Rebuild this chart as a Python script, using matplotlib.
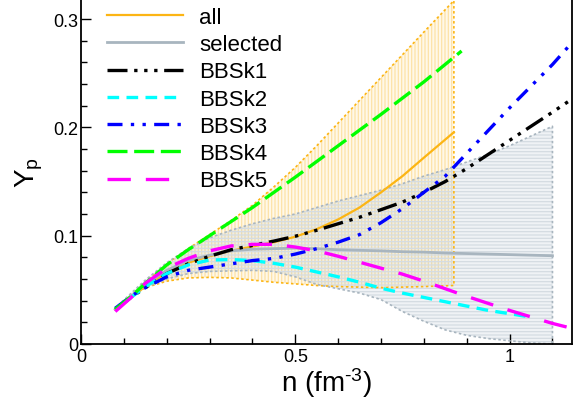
import numpy as np
import matplotlib
matplotlib.use("Agg")
import matplotlib.pyplot as plt
from matplotlib.ticker import MultipleLocator, FuncFormatter

plt.rcParams['font.family'] = ['Liberation Sans', 'DejaVu Sans']
plt.rcParams['mathtext.fontset'] = 'custom'
plt.rcParams['mathtext.rm'] = 'Liberation Sans'
plt.rcParams['mathtext.it'] = 'Liberation Sans:italic'
plt.rcParams['hatch.linewidth'] = 0.9

# ---- bandas: todas las parametrizaciones y las seleccionadas ----
n_all = [0.08, 0.12, 0.15, 0.20, 0.25, 0.30, 0.35, 0.40, 0.45, 0.50, 0.55,
         0.60, 0.65, 0.70, 0.75, 0.80, 0.87]
all_lo = [0.031, 0.045, 0.052, 0.058, 0.061, 0.0615, 0.061, 0.059, 0.057, 0.0555,
          0.054, 0.053, 0.0525, 0.052, 0.0525, 0.053, 0.054]
all_hi = [0.033, 0.046, 0.057, 0.074, 0.088, 0.101, 0.114, 0.128, 0.145, 0.163,
          0.183, 0.204, 0.225, 0.246, 0.267, 0.288, 0.317]
all_mid = [0.032, 0.044, 0.053, 0.066, 0.075, 0.081, 0.086, 0.090, 0.094, 0.099,
           0.106, 0.115, 0.126, 0.140, 0.155, 0.172, 0.1955]

n_sel = [0.08, 0.12, 0.15, 0.20, 0.25, 0.30, 0.35, 0.40, 0.45, 0.50, 0.55, 0.60,
         0.65, 0.70, 0.75, 0.80, 0.85, 0.90, 0.95, 1.00, 1.05, 1.10]
sel_lo = [0.031, 0.045, 0.052, 0.060, 0.065, 0.067, 0.0675, 0.068, 0.067, 0.062,
          0.055, 0.051, 0.047, 0.041, 0.030, 0.021, 0.013, 0.008, 0.005, 0.003,
          0.001, 0.0]
sel_hi = [0.033, 0.048, 0.059, 0.075, 0.088, 0.098, 0.105, 0.111, 0.116, 0.120,
          0.126, 0.132, 0.137, 0.142, 0.148, 0.155, 0.161, 0.168, 0.175, 0.183,
          0.192, 0.201]
sel_mid = [0.032, 0.045, 0.055, 0.068, 0.077, 0.082, 0.086, 0.0875, 0.088, 0.0885,
           0.088, 0.087, 0.0865, 0.086, 0.0852, 0.0848, 0.084, 0.0835, 0.083,
           0.0825, 0.082, 0.0815]

# ---- curvas BBSk ----
n_bbsk1 = [0.08, 0.12, 0.15, 0.20, 0.25, 0.30, 0.35, 0.40, 0.45, 0.50, 0.55, 0.60,
           0.65, 0.70, 0.75, 0.80, 0.85, 0.90, 0.95, 1.00, 1.05, 1.10, 1.145]
yp_bbsk1 = [0.032, 0.044, 0.052, 0.065, 0.074, 0.081, 0.087, 0.091, 0.095, 0.0995,
            0.105, 0.111, 0.117, 0.124, 0.131, 0.140, 0.150, 0.162, 0.175, 0.188,
            0.201, 0.214, 0.226]

n_bbsk2 = [0.08, 0.12, 0.15, 0.20, 0.25, 0.30, 0.35, 0.40, 0.45, 0.50, 0.55, 0.60,
           0.65, 0.70, 0.75, 0.80, 0.85, 0.90, 0.95, 1.00, 1.047]
yp_bbsk2 = [0.032, 0.044, 0.053, 0.065, 0.073, 0.0775, 0.078, 0.077, 0.0745, 0.071,
            0.0665, 0.062, 0.057, 0.0515, 0.047, 0.043, 0.039, 0.035, 0.031, 0.028,
            0.025]

n_bbsk3 = [0.08, 0.12, 0.15, 0.20, 0.25, 0.30, 0.35, 0.40, 0.45, 0.50, 0.55, 0.60,
           0.65, 0.70, 0.75, 0.80, 0.85, 0.90, 0.95, 1.00, 1.05, 1.10, 1.145]
yp_bbsk3 = [0.033, 0.045, 0.052, 0.062, 0.068, 0.071, 0.074, 0.077, 0.079, 0.083,
            0.088, 0.094, 0.101, 0.112, 0.125, 0.140, 0.155, 0.176, 0.197, 0.218,
            0.238, 0.258, 0.278]

n_bbsk4 = [0.08, 0.12, 0.15, 0.20, 0.25, 0.30, 0.35, 0.40, 0.45, 0.50, 0.60, 0.70,
           0.80, 0.888]
yp_bbsk4 = [0.032, 0.045, 0.056, 0.073, 0.087, 0.100, 0.113, 0.126, 0.140, 0.154,
            0.183, 0.212, 0.242, 0.2705]

n_bbsk5 = [0.08, 0.12, 0.15, 0.20, 0.25, 0.30, 0.35, 0.40, 0.45, 0.50, 0.55, 0.60,
           0.65, 0.70, 0.75, 0.80, 0.85, 0.90, 0.95, 1.00, 1.05, 1.10, 1.145]
yp_bbsk5 = [0.030, 0.044, 0.056, 0.070, 0.079, 0.086, 0.0905, 0.092, 0.092, 0.0895,
            0.086, 0.081, 0.0755, 0.070, 0.0645, 0.058, 0.051, 0.044, 0.0375, 0.031,
            0.025, 0.019, 0.0145]

ORANGE = '#fcb514'
GRAY = '#a8b5bf'

fig = plt.figure(figsize=(5.78, 4.02), dpi=100)
ax = fig.add_axes([81 / 578, 57 / 402, 491 / 578, 345 / 402])


def banda(n, lo, hi, color, face, hatch, hatch_color):
    n, lo, hi = np.asarray(n), np.asarray(lo), np.asarray(hi)
    ax.fill_between(n, lo, hi, facecolor=face, edgecolor='none', linewidth=0)
    ax.fill_between(n, lo, hi, facecolor='none', edgecolor=hatch_color,
                    hatch=hatch, linewidth=0)
    xs = np.r_[n, n[::-1], n[0]]
    ys = np.r_[lo, hi[::-1], lo[0]]
    ax.plot(xs, ys, color=color, lw=1.2, ls=(0, (1.5, 1.5)))


banda(n_all, all_lo, all_hi, ORANGE, (1.0, 0.86, 0.5, 0.18), '|||||', '#fde3a8')
banda(n_sel, sel_lo, sel_hi, GRAY, (0.72, 0.78, 0.83, 0.22), '-----', '#d4dce2')

lw = 2.4
ax.plot(n_all, all_mid, color=ORANGE, lw=1.6, label='all')
ax.plot(n_sel, sel_mid, color=GRAY, lw=2.0, label='selected')
ax.plot(n_bbsk1, yp_bbsk1, color='black', lw=lw,
        dashes=[6, 2, 1, 2, 1, 2, 1, 2], label='BBSk1')
ax.plot(n_bbsk2, yp_bbsk2, color='#00ffff', lw=lw, dashes=[3.5, 2.2], label='BBSk2')
ax.plot(n_bbsk3, yp_bbsk3, color='#0000ff', lw=lw,
        dashes=[4.5, 2.5, 1, 2.5, 1, 2.5], label='BBSk3')
ax.plot(n_bbsk4, yp_bbsk4, color='#00ff00', lw=lw, dashes=[6, 2], label='BBSk4')
ax.plot(n_bbsk5, yp_bbsk5, color='#ff00ff', lw=lw, dashes=[7, 4.5], label='BBSk5')

ax.set_xlim(0, 1.1456)
ax.set_ylim(0, 0.3185)
ax.spines['top'].set_visible(False)
for s in ('left', 'bottom', 'right'):
    ax.spines[s].set_linewidth(1.3)

fmt = FuncFormatter(lambda v, p: '%g' % round(v, 3))
ax.xaxis.set_major_locator(MultipleLocator(0.5))
ax.xaxis.set_minor_locator(MultipleLocator(0.1))
ax.yaxis.set_major_locator(MultipleLocator(0.1))
ax.yaxis.set_minor_locator(MultipleLocator(0.02))
ax.xaxis.set_major_formatter(fmt)
ax.yaxis.set_major_formatter(fmt)
ax.tick_params(which='both', direction='in', top=False, right=False,
               labelsize=13, width=1.0)
ax.tick_params(which='major', length=7.5)
ax.tick_params(which='minor', length=4.5)
ax.tick_params(axis='x', pad=3)
ax.tick_params(axis='y', pad=2)

ax.set_xlabel(r'n (fm$^{\text{-3}}$)', fontsize=20, labelpad=0)
ax.set_ylabel(r'Y$_{\mathrm{p}}$', fontsize=20, labelpad=6)

ax.legend(loc='upper left', bbox_to_anchor=(107 / 578, 1 - 8 / 402),
          bbox_transform=fig.transFigure, frameon=False, fontsize=16,
          borderpad=0, borderaxespad=0, handlelength=3.4, handletextpad=0.75,
          labelspacing=0.28)

fig.savefig('out.png', dpi=100)
